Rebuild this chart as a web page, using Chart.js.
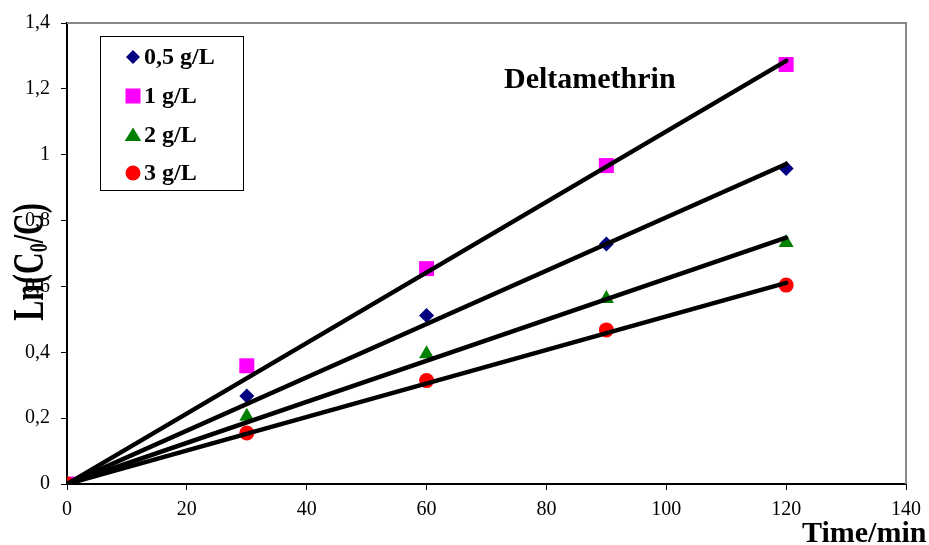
<!DOCTYPE html>
<html>
<head>
<meta charset="utf-8">
<title>Deltamethrin</title>
<script src="https://cdn.jsdelivr.net/npm/chart.js@4/dist/chart.umd.min.js"></script>
<style>
  body { margin: 0; background: #fff; }
  #wrap { width: 929px; height: 545px; }
</style>
</head>
<body>
<div id="wrap"><canvas id="kinetics" width="929" height="545"></canvas></div>
<script>
// sampling times (min)
var times = [0, 30, 60, 90, 120];
// Ln(C0/C) for each catalyst dose
var dose05 = [0, 0.267, 0.512, 0.729, 0.958];
var dose1 = [0, 0.359, 0.654, 0.967, 1.274];
var dose2 = [0, 0.205, 0.395, 0.563, 0.733];
var dose3 = [0, 0.155, 0.314, 0.468, 0.604];
// linear fits through origin, start and end points
var fitTimes = [0, 120];
var fit05 = [0, 0.972];
var fit1 = [0, 1.285];
var fit2 = [0, 0.748];
var fit3 = [0, 0.611];

var doseNames = ['0,5 g/L', '1 g/L', '2 g/L', '3 g/L'];
var yTicks = ['0', '0,2', '0,4', '0,6', '0,8', '1', '1,2', '1,4'];
var xTicks = ['0', '20', '40', '60', '80', '100', '120', '140'];

var serif = '"Liberation Serif", "Times New Roman", serif';

function pts(xs, ys) {
  var out = [];
  for (var i = 0; i < xs.length; i++) out.push({x: xs[i], y: ys[i]});
  return out;
}

var markers = [
  {name: doseNames[0], data: dose05, style: 'rectRot', color: '#000080', r: 7.5, order: 4},
  {name: doseNames[1], data: dose1, style: 'rect', color: '#FF00FF', r: 10.6, order: 3},
  {name: doseNames[2], data: dose2, style: 'triangle', color: '#008000', r: 8.7, order: 2},
  {name: doseNames[3], data: dose3, style: 'circle', color: '#FF0000', r: 7.5, order: 1}
];
var fits = [fit05, fit1, fit2, fit3];

var datasets = [];
fits.forEach(function(f) {
  datasets.push({
    data: pts(fitTimes, f),
    showLine: true,
    borderColor: '#000',
    borderWidth: 4.5,
    borderCapStyle: 'round',
    pointRadius: 0,
    order: 0
  });
});
markers.forEach(function(m) {
  datasets.push({
    label: m.name,
    data: pts(times, m.data),
    showLine: false,
    pointStyle: m.style,
    pointRadius: m.r,
    pointHoverRadius: m.r,
    backgroundColor: m.color,
    borderColor: m.color,
    borderWidth: 0,
    order: m.order
  });
});

function drawMarker(ctx, style, x, y, r, color) {
  ctx.save();
  ctx.fillStyle = color;
  ctx.beginPath();
  if (style == 'rectRot') {
    ctx.moveTo(x, y - r); ctx.lineTo(x + r, y); ctx.lineTo(x, y + r); ctx.lineTo(x - r, y);
  } else if (style == 'rect') {
    ctx.rect(x - r, y - r, 2 * r, 2 * r);
  } else if (style == 'triangle') {
    ctx.moveTo(x, y - r); ctx.lineTo(x + r * 1.1, y + r * 0.8); ctx.lineTo(x - r * 1.1, y + r * 0.8);
  } else {
    ctx.arc(x, y, r, 0, Math.PI * 2);
  }
  ctx.closePath();
  ctx.fill();
  ctx.restore();
}

// frame, legend box, titles
var decor = {
  id: 'decor',
  beforeDatasetsDraw: function(chart) {
    var a = chart.chartArea, ctx = chart.ctx;
    ctx.save();
    ctx.strokeStyle = '#888';
    ctx.lineWidth = 2;
    ctx.beginPath();
    ctx.moveTo(a.left, a.top); ctx.lineTo(a.right, a.top); ctx.lineTo(a.right, a.bottom);
    ctx.stroke();
    ctx.restore();
  },
  afterDraw: function(chart) {
    var ctx = chart.ctx;
    ctx.save();
    // legend
    ctx.fillStyle = '#fff';
    ctx.fillRect(100, 36, 143, 154);
    ctx.strokeStyle = '#000';
    ctx.lineWidth = 1;
    ctx.strokeRect(100.5, 36.5, 143, 154);
    var rows = [57, 96, 135, 173];
    var legR = [7, 7.5, 7.5, 7.5];
    ctx.font = 'bold 24px ' + serif;
    ctx.textBaseline = 'middle';
    ctx.textAlign = 'left';
    markers.forEach(function(m, i) {
      drawMarker(ctx, m.style, 133, rows[i], legR[i], m.color);
      ctx.fillStyle = '#000';
      ctx.fillText(m.name, 144, rows[i] + 1);
    });
    // title
    ctx.font = 'bold 30px ' + serif;
    ctx.textBaseline = 'alphabetic';
    ctx.fillStyle = '#000';
    ctx.fillText('Deltamethrin', 504, 88);
    // x axis title
    ctx.fillText('Time/min', 802, 542);
    // y axis title with subscript, glyphs drawn tall and narrow
    ctx.translate(43, 262);
    ctx.rotate(-Math.PI / 2);
    ctx.scale(1, 1.45);
    var p1 = 'Ln(C', sub = '0', p2 = '/C)';
    ctx.font = 'bold 30px ' + serif;
    var w1 = ctx.measureText(p1).width, w3 = ctx.measureText(p2).width;
    ctx.font = 'bold 18px ' + serif;
    var w2 = ctx.measureText(sub).width;
    var x0 = -(w1 + w2 + w3) / 2;
    ctx.textAlign = 'left';
    ctx.font = 'bold 30px ' + serif;
    ctx.fillText(p1, x0, 0);
    ctx.font = 'bold 18px ' + serif;
    ctx.fillText(sub, x0 + w1, 3);
    ctx.font = 'bold 30px ' + serif;
    ctx.fillText(p2, x0 + w1 + w2, 0);
    ctx.restore();
  }
};

var ctx = document.getElementById('kinetics');
var chart = new Chart(ctx, {
  type: 'scatter',
  data: {datasets: datasets},
  options: {
    responsive: false,
    animation: false,
    layout: {padding: {top: 22, right: 22, left: 0, bottom: 0}},
    plugins: {
      legend: {display: false},
      tooltip: {enabled: false}
    },
    scales: {
      x: {
        type: 'linear',
        min: 0,
        max: 140,
        afterFit: function(s) { s.height = 61; },
        ticks: {
          stepSize: 20,
          padding: 8,
          color: '#000',
          font: {family: serif, size: 20},
          callback: function(v, i) { return xTicks[i]; }
        },
        grid: {drawOnChartArea: false, drawTicks: true, tickLength: 6, color: '#000', lineWidth: 1},
        border: {display: true, color: '#000', width: 2}
      },
      y: {
        min: 0,
        max: 1.4,
        afterFit: function(s) { s.width = 67; },
        ticks: {
          stepSize: 0.2,
          padding: 11,
          color: '#000',
          font: {family: serif, size: 20},
          callback: function(v, i) { return yTicks[i]; }
        },
        grid: {drawOnChartArea: false, drawTicks: true, tickLength: 6, color: '#000', lineWidth: 1},
        border: {display: true, color: '#000', width: 2}
      }
    }
  },
  plugins: [decor]
});
</script>
</body>
</html>
